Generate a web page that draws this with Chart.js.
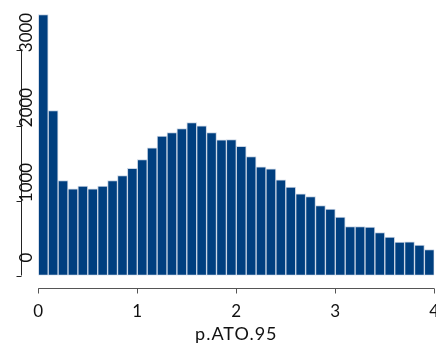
<!DOCTYPE html>
<html>
<head>
<meta charset="utf-8">
<script src="https://cdn.jsdelivr.net/npm/chart.js@4/dist/chart.umd.min.js"></script>
<style>
  html, body { margin: 0; padding: 0; background: #ffffff; }
  #wrap { width: 436px; height: 343px; }
</style>
</head>
<body>
<div id="wrap"><canvas id="c" width="436" height="343"></canvas></div>
<script>
// Histogram of p.ATO.95, bins of width 0.1
const binStarts = [0.0, 0.1, 0.2, 0.3, 0.4, 0.5, 0.6, 0.7, 0.8, 0.9,
                   1.0, 1.1, 1.2, 1.3, 1.4, 1.5, 1.6, 1.7, 1.8, 1.9,
                   2.0, 2.1, 2.2, 2.3, 2.4, 2.5, 2.6, 2.7, 2.8, 2.9,
                   3.0, 3.1, 3.2, 3.3, 3.4, 3.5, 3.6, 3.7, 3.8, 3.9];
const binWidth = 0.1;
const counts = [3480, 2200, 1267, 1156, 1191, 1156, 1191, 1267, 1333, 1428,
                1545, 1702, 1858, 1907, 1960, 2040, 1996, 1907, 1809, 1813,
                1722, 1587, 1449, 1422, 1276, 1178, 1089, 1053, 933, 884,
                778, 653, 653, 644, 573, 511, 444, 449, 404, 347];
const xTicks = [0, 1, 2, 3, 4];
const yTicks = [0, 1000, 2000, 3000];
const xTitle = 'p.ATO.95';

const points = binStarts.map((b, i) => ({ x: b + binWidth / 2, y: counts[i] }));

// R-style axes: detached lines, ticks, rotated y labels
const baseAxes = {
  id: 'baseAxes',
  afterDraw(chart) {
    const ctx = chart.ctx;
    const xs = chart.scales.x, ys = chart.scales.y;
    ctx.save();

    // x axis
    const xLineY = 288.5;
    ctx.strokeStyle = '#555555';
    ctx.lineWidth = 1;
    ctx.beginPath();
    ctx.moveTo(xs.getPixelForValue(xTicks[0]), xLineY);
    ctx.lineTo(xs.getPixelForValue(xTicks[xTicks.length - 1]), xLineY);
    xTicks.forEach(t => {
      const px = Math.round(xs.getPixelForValue(t)) + 0.5;
      ctx.moveTo(px, xLineY);
      ctx.lineTo(px, xLineY + 5);
    });
    ctx.stroke();

    ctx.fillStyle = '#111111';
    ctx.font = '17px Lato';
    ctx.textAlign = 'center';
    ctx.textBaseline = 'alphabetic';
    xTicks.forEach(t => {
      ctx.fillText(String(t), xs.getPixelForValue(t), 317);
    });

    ctx.font = '18px Lato';
    ctx.letterSpacing = '1px';
    ctx.fillText(xTitle, xs.getPixelForValue(2), 340);
    ctx.letterSpacing = '0px';

    // y axis
    const yLineX = 21.5;
    ctx.strokeStyle = '#222222';
    ctx.beginPath();
    ctx.moveTo(yLineX, ys.getPixelForValue(yTicks[0]));
    ctx.lineTo(yLineX, ys.getPixelForValue(yTicks[yTicks.length - 1]));
    yTicks.forEach(t => {
      const py = Math.round(ys.getPixelForValue(t)) + 0.5;
      ctx.moveTo(yLineX, py);
      ctx.lineTo(yLineX - 5, py);
    });
    ctx.stroke();

    ctx.font = '17px Lato';
    ctx.fillStyle = '#111111';
    yTicks.forEach(t => {
      const py = ys.getPixelForValue(t) - 18;
      ctx.save();
      ctx.translate(32, py);
      ctx.rotate(-Math.PI / 2);
      ctx.textAlign = 'center';
      ctx.textBaseline = 'alphabetic';
      ctx.fillText(String(t), 0, 0);
      ctx.restore();
    });

    ctx.restore();
  }
};

new Chart(document.getElementById('c'), {
  type: 'bar',
  data: {
    datasets: [{
      data: points,
      backgroundColor: '#003f7f',
      borderColor: '#c9d5e5',
      borderWidth: 1,
      borderSkipped: false,
      barPercentage: 1.0,
      categoryPercentage: 1.0
    }]
  },
  options: {
    responsive: false,
    animation: false,
    devicePixelRatio: 1,
    layout: { padding: { left: 38.3, right: 1.7, top: 5.5, bottom: 67.5 } },
    plugins: { legend: { display: false }, tooltip: { enabled: false } },
    scales: {
      x: { type: 'linear', min: 0, max: 4, offset: false, display: false },
      y: { min: 0, max: 3600, display: false }
    }
  },
  plugins: [baseAxes]
});
</script>
</body>
</html>
